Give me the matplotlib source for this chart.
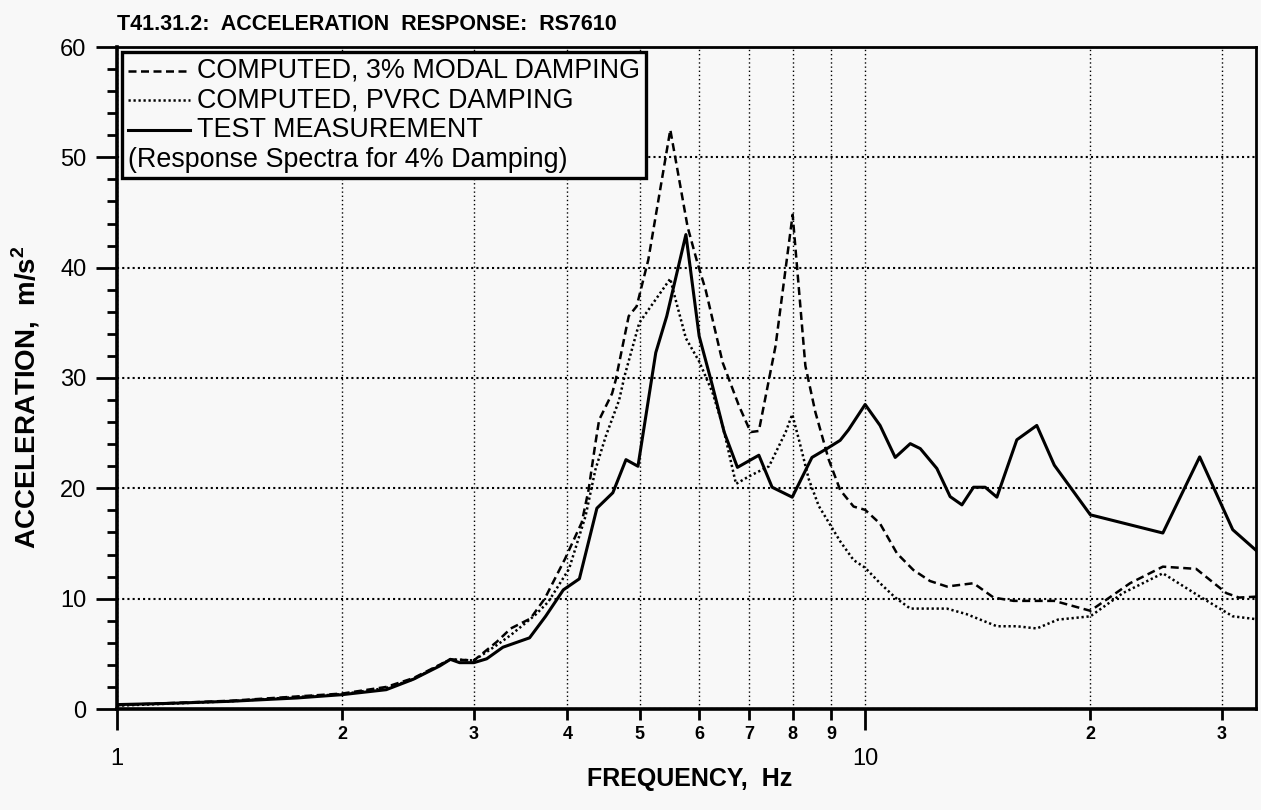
import matplotlib
matplotlib.use("Agg")
import matplotlib.pyplot as plt
from matplotlib.ticker import FixedLocator, FixedFormatter, MultipleLocator
from matplotlib.offsetbox import AnchoredOffsetbox, VPacker, HPacker, TextArea, DrawingArea
from matplotlib.lines import Line2D

# --- data (frequency in Hz, acceleration in m/s^2) ---
freq_modal = [1.0, 1.42, 2.0, 2.29, 2.49, 2.79, 3.0, 3.22, 3.36, 3.57, 3.73, 3.97,
              4.18, 4.27, 4.36, 4.41, 4.59, 4.64, 4.83, 4.95, 5.13, 5.49, 5.79,
              5.97, 6.12, 6.45, 6.78, 7.03, 7.21, 7.59, 8.0, 8.32, 8.58, 8.94,
              9.26, 9.65, 10.0, 10.47, 11.03, 11.6, 12.21, 12.86, 13.96, 14.85,
              15.79, 17.14, 17.9, 20.0, 22.6, 25.0, 27.7, 30.4, 31.6, 33.7]
acc_modal = [0.35, 0.75, 1.4, 2.0, 2.8, 4.5, 4.4, 6.1, 7.3, 8.2, 10.0, 13.6,
             16.9, 19.9, 24.1, 26.2, 28.6, 29.8, 35.6, 36.5, 40.7, 52.5, 43.7,
             40.4, 38.0, 31.4, 27.5, 25.1, 25.2, 32.9, 44.8, 31.1, 26.9, 22.6,
             19.85, 18.35, 18.05, 16.8, 14.1, 12.6, 11.6, 11.1, 11.4, 10.1,
             9.8, 9.8, 9.8, 8.9, 11.4, 12.9, 12.7, 10.5, 10.1, 10.2]

freq_pvrc = [1.0, 1.42, 2.0, 2.29, 2.49, 2.79, 3.0, 3.22, 3.36, 3.62, 3.77, 4.02,
             4.23, 4.36, 4.50, 4.69, 4.77, 4.99, 5.49, 5.55, 5.76, 6.0, 6.25,
             6.45, 6.72, 7.0, 7.44, 7.83, 7.99, 8.15, 8.41, 8.67, 9.26, 9.65,
             10.0, 10.47, 10.97, 11.49, 12.86, 13.66, 15.0, 15.95, 16.96, 18.1,
             20.0, 22.1, 25.0, 28.0, 31.0, 33.7]
acc_pvrc = [0.3, 0.7, 1.35, 1.9, 2.7, 4.5, 4.4, 5.8, 6.7, 8.5, 9.7, 12.7,
            17.5, 21.7, 24.7, 28.0, 30.2, 35.0, 39.0, 37.7, 33.6, 31.5, 28.7,
            25.7, 20.4, 21.1, 22.0, 25.1, 26.7, 24.5, 20.8, 18.4, 15.2, 13.5,
            12.8, 11.4, 10.1, 9.1, 9.1, 8.6, 7.5, 7.5, 7.3, 8.1,
            8.4, 10.5, 12.3, 10.2, 8.4, 8.1]

freq_test = [1.0, 1.16, 1.42, 1.74, 2.0, 2.29, 2.49, 2.70, 2.79, 2.87, 3.0, 3.12,
             3.28, 3.56, 3.74, 3.95, 4.15, 4.38, 4.60, 4.79, 4.97, 5.25, 5.43,
             5.76, 6.0, 6.25, 6.48, 6.75, 7.21, 7.51, 7.99, 8.49, 8.94, 9.26,
             9.5, 10.0, 10.47, 10.97, 11.49, 11.85, 12.47, 12.99, 13.47, 13.96,
             14.47, 15.0, 15.95, 16.96, 17.9, 20.0, 25.0, 28.0, 31.0, 33.6]
acc_test = [0.4, 0.5, 0.7, 1.0, 1.3, 1.75, 2.7, 3.9, 4.5, 4.2, 4.2, 4.55,
            5.6, 6.45, 8.4, 10.8, 11.8, 18.2, 19.6, 22.6, 22.0, 32.3, 35.6,
            43.0, 33.8, 29.3, 25.1, 21.9, 23.0, 20.1, 19.2, 22.8, 23.7, 24.35,
            25.3, 27.6, 25.7, 22.8, 24.05, 23.6, 21.8, 19.25, 18.5, 20.1,
            20.1, 19.2, 24.4, 25.7, 22.1, 17.6, 15.95, 22.85, 16.25, 14.15]

minor_x = [2, 3, 4, 5, 6, 7, 8, 9, 20, 30]
minor_x_labels = ["2", "3", "4", "5", "6", "7", "8", "9", "2", "3"]
legend_labels = ["COMPUTED, 3% MODAL DAMPING", "COMPUTED, PVRC DAMPING",
                 "TEST MEASUREMENT"]
legend_note = "(Response Spectra for 4% Damping)"

plt.rcParams["font.family"] = ["Liberation Sans", "DejaVu Sans"]
plt.rcParams["mathtext.fontset"] = "custom"
plt.rcParams["mathtext.rm"] = "Liberation Sans"
plt.rcParams["mathtext.bf"] = "Liberation Sans:bold"

BG = "#f8f8f8"
DASH = (0, (3.2, 1.8))
DOT = (0, (0.9, 1.1))

fig = plt.figure(figsize=(12.61, 8.10), dpi=100, facecolor=BG)
ax = fig.add_axes([117 / 1261, 1 - 709 / 810, (1256 - 117) / 1261, (709 - 47) / 810])
ax.set_facecolor(BG)

ax.plot(freq_modal, acc_modal, color="k", lw=1.8, linestyle=DASH)
ax.plot(freq_pvrc, acc_pvrc, color="k", lw=1.8, linestyle=DOT)
ax.plot(freq_test, acc_test, color="k", lw=2.2, linestyle="-")

ax.set_xscale("log")
ax.set_xlim(1, 33.3)
ax.set_ylim(0, 60)

ax.xaxis.set_major_locator(FixedLocator([1, 10]))
ax.xaxis.set_major_formatter(FixedFormatter(["1", "10"]))
ax.xaxis.set_minor_locator(FixedLocator(minor_x))
ax.xaxis.set_minor_formatter(FixedFormatter(minor_x_labels))
ax.tick_params(axis="x", which="major", length=15, width=2, pad=13, labelsize=17)
ax.tick_params(axis="x", which="minor", length=8, width=2, pad=4, labelsize=13)
plt.setp(ax.get_xticklabels(minor=True), fontweight="bold")

ax.set_yticks(range(0, 61, 10))
ax.yaxis.set_minor_locator(MultipleLocator(2))
ax.tick_params(axis="y", which="major", length=15, width=2, pad=7, labelsize=17)
ax.tick_params(axis="y", which="minor", length=7.5, width=2)

ax.grid(axis="y", which="major", color="k", lw=1.5, linestyle=(0, (1, 1.5)))
ax.grid(axis="x", which="both", color="k", lw=1.0, linestyle=(0, (1, 2)))

for side in ["left", "bottom"]:
    ax.spines[side].set_linewidth(2.6)
for side in ["top", "right"]:
    ax.spines[side].set_linewidth(2.0)

ax.set_title("T41.31.2:  ACCELERATION  RESPONSE:  RS7610", loc="left",
             fontsize=15.5, fontweight="bold", pad=12)
ax.set_xlabel("FREQUENCY,  Hz", fontsize=18, fontweight="bold")
ax.xaxis.set_label_coords(0.503, -0.088)
ax.set_ylabel(r"ACCELERATION,  m/s$^{\mathbf{2}}$", fontsize=20, fontweight="bold")
ax.yaxis.set_label_coords(-0.066, 0.471)

# legend box with the extra note line
rows = []
for ls, lw, label in zip([DASH, DOT, "-"], [1.8, 1.8, 2.2], legend_labels):
    da = DrawingArea(45, 12, 0, 0)
    da.add_artist(Line2D([0, 45], [6, 6], color="k", lw=lw, linestyle=ls))
    rows.append(HPacker(children=[da, TextArea(label, textprops=dict(size=19.4))],
                        sep=5, align="center", pad=0))
rows.append(TextArea(legend_note, textprops=dict(size=19.4)))
box = VPacker(children=rows, sep=2.6, align="left", pad=0)
leg = AnchoredOffsetbox(loc="upper left", child=box, pad=0.22, borderpad=0,
                        frameon=True, prop=dict(size=19),
                        bbox_to_anchor=(5 / 1139, 1 - 5 / 662),
                        bbox_transform=ax.transAxes)
leg.patch.set_linewidth(2.4)
leg.patch.set_edgecolor("k")
leg.patch.set_facecolor(BG)
leg.patch.set_boxstyle("square", pad=0)
ax.add_artist(leg)

fig.savefig("out.png", dpi=100, facecolor=BG)
